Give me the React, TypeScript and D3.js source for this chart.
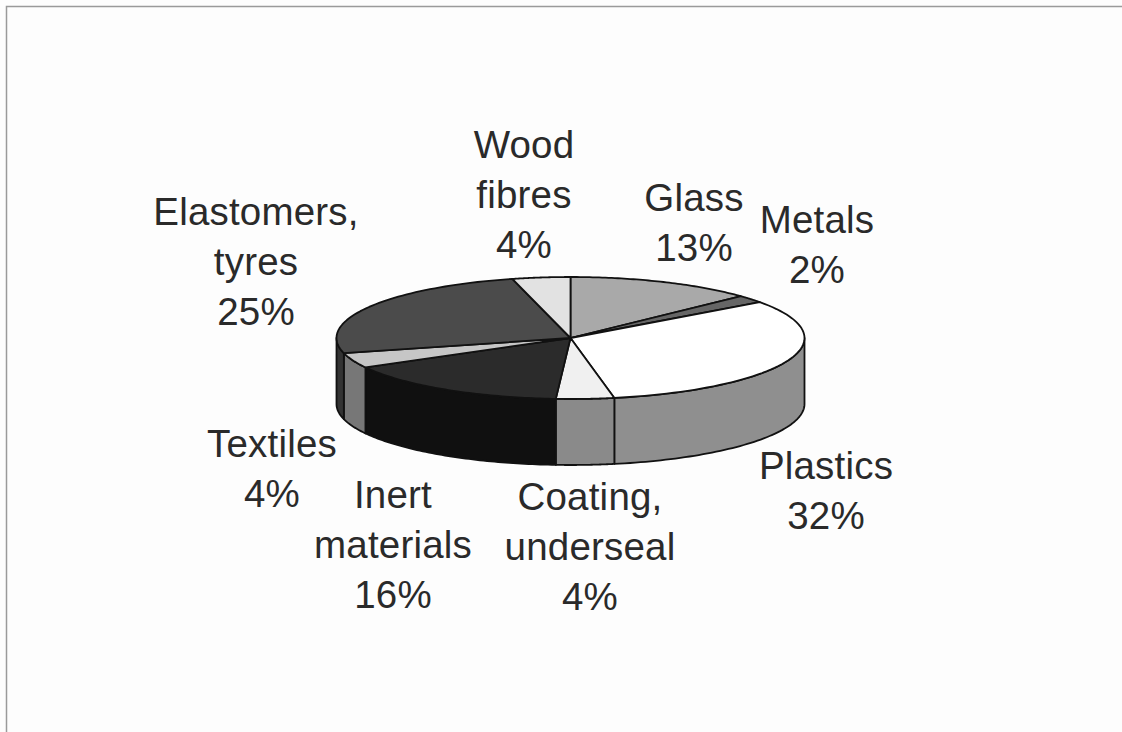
import React from "react";
import * as d3 from "d3";

const categories = ["Glass", "Metals", "Plastics", "Coating, underseal", "Inert materials", "Textiles", "Elastomers, tyres", "Wood fibres"];
const shares = [13, 2, 32, 4, 16, 4, 25, 4];
const topFills = ["#a9a9a9", "#666666", "#ffffff", "#f0f0f0", "#2b2b2b", "#c6c6c6", "#4b4b4b", "#e2e2e2"];
const sideFills = ["#808080", "#4d4d4d", "#8f8f8f", "#8a8a8a", "#101010", "#777777", "#333333", "#aaaaaa"];
const labelLines = [["Glass", "13%"], ["Metals", "2%"], ["Plastics", "32%"], ["Coating,", "underseal", "4%"], ["Inert", "materials", "16%"], ["Textiles", "4%"], ["Elastomers,", "tyres", "25%"], ["Wood", "fibres", "4%"]];
const labelX = [694, 817, 826, 590, 393, 272, 256, 524];
const labelY = [211, 233, 479, 510, 508, 457, 225, 158];

const cx = 570.5, cy = 338, rx = 234, ry = 61, depth = 66;

const point = (a: number, dy = 0): [number, number] => [cx + rx * Math.sin(a), cy - ry * Math.cos(a) + dy];
const line = d3.line();

const slices = d3.pie<number>().sort(null)(shares);

function topPath(a0: number, a1: number) {
  const rim = d3.range(0, 61).map((i) => point(a0 + ((a1 - a0) * i) / 60));
  return line([[cx, cy], ...rim]) + "Z";
}

// Only the front half of the disc shows a wall.
function sidePath(a0: number, a1: number) {
  const from = Math.max(a0, Math.PI / 2), to = Math.min(a1, (3 * Math.PI) / 2);
  if (to <= from) return null;
  const t = d3.range(0, 61).map((i) => from + ((to - from) * i) / 60);
  return line([...t.map((a) => point(a)), ...t.slice().reverse().map((a) => point(a, depth))]) + "Z";
}

export default function App() {
  return (
    <svg width={1122} height={732} style={{ position: "fixed", left: 0, top: 0, background: "#fdfdfd" }}>
      <path d="M6.5,732V6.5H1122" fill="none" stroke="#9a9a9a" strokeWidth={1.5} />
      {slices.map((s, i) => {
        const d = sidePath(s.startAngle, s.endAngle);
        return d ? <path key={i} d={d} fill={sideFills[i]} stroke="#111" strokeWidth={1.8} strokeLinejoin="round" /> : null;
      })}
      {slices.map((s, i) => (
        <path key={i} d={topPath(s.startAngle, s.endAngle)} fill={topFills[i]} stroke="#111" strokeWidth={1.8} strokeLinejoin="round" />
      ))}
      {categories.map((c, i) => (
        <text key={c} textAnchor="middle" fontFamily="'Liberation Sans', Arial, sans-serif" fontSize={38.5} letterSpacing={0.2} fill="#2a2a2a">
          {labelLines[i].map((t, j) => (
            <tspan key={j} x={labelX[i]} y={labelY[i] + j * 50}>{t}</tspan>
          ))}
        </text>
      ))}
    </svg>
  );
}
